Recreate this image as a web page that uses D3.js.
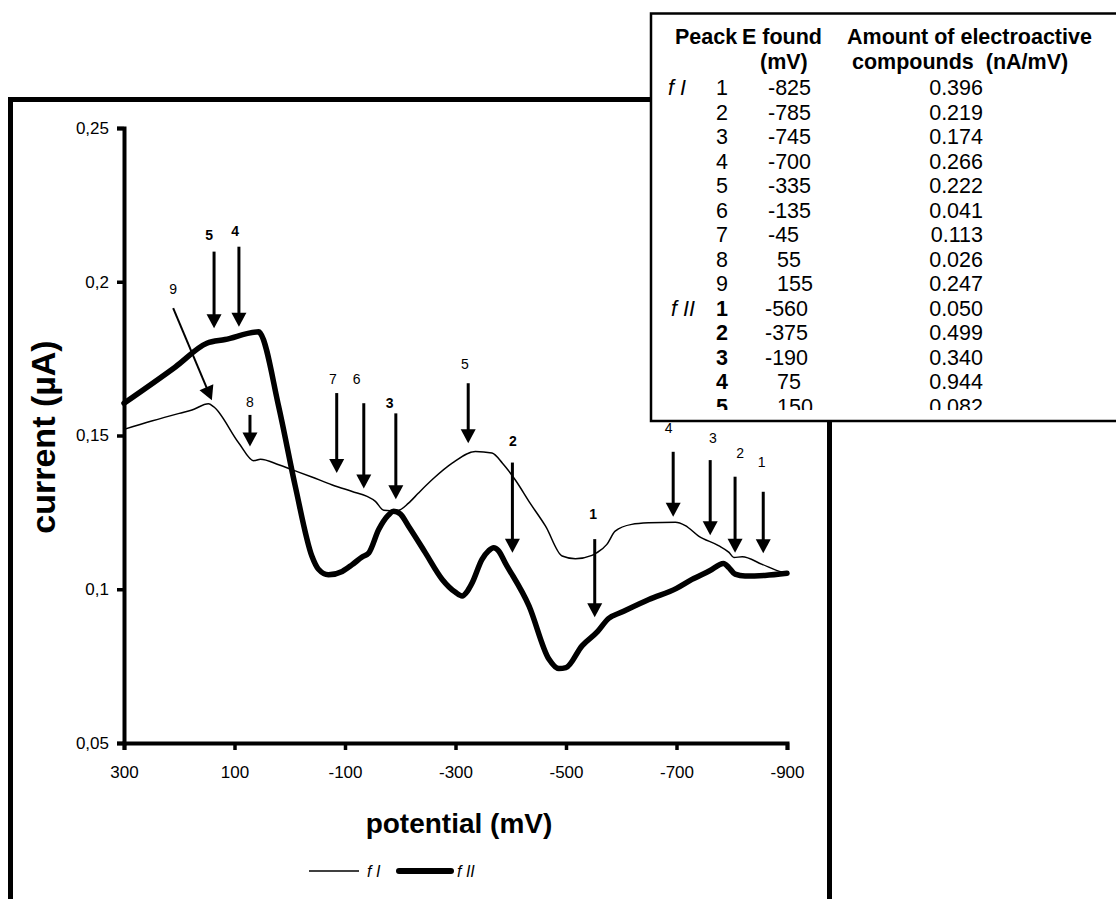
<!DOCTYPE html>
<html lang="en">
<head>
<meta charset="utf-8">
<style type="text/css">
    body { margin: 0; background: #fff; }
    text { font-family: Arial, "Liberation Sans", sans-serif; fill: #000; }
    .tick_text { font-size: 17px; }
    .title_text { font-size: 28px; font-weight: bold; }
    .table_text { font-size: 21.5px; }
    .peak_label { font-size: 14px; }
</style>
</head>
<body>
<div id="graph"></div>
<script src="https://cdn.jsdelivr.net/npm/d3@7"></script>
<script type="text/javascript">
// axis ticks
var potentialTicks = [300, 100, -100, -300, -500, -700, -900];
var currentTicks = [0.05, 0.1, 0.15, 0.2, 0.25];

// fraction I (thin line), potential in mV and current in uA
var fIPotential = [300, 250, 200, 177, 147, 138, 92, 65, 53, 20, -4, -40, -76, -113, -140, -155, -170, -194, -215, -233, -260, -294, -336, -366, -385, -408, -435, -463, -493, -517, -547, -556, -574, -589, -619, -650, -698, -716, -740, -776, -795, -804, -819, -855, -891, -900];
var fICurrent = [0.152, 0.1547, 0.1572, 0.1583, 0.1603, 0.1594, 0.1475, 0.1418, 0.1423, 0.1405, 0.1389, 0.1365, 0.134, 0.1318, 0.1302, 0.1286, 0.1257, 0.1255, 0.128, 0.1313, 0.136, 0.141, 0.1448, 0.1443, 0.141, 0.1356, 0.128, 0.1205, 0.1108, 0.1099, 0.111, 0.1119, 0.1146, 0.1189, 0.1211, 0.1216, 0.1218, 0.1207, 0.1173, 0.1142, 0.112, 0.1103, 0.1106, 0.1081, 0.1056, 0.1053];

// fraction II (thick line)
var fIIPotential = [300, 207, 150, 117, 56, 53, 20, -10, -40, -52, -70, -95, -113, -131, -143, -161, -178, -188, -200, -215, -245, -276, -300, -312, -322, -330, -348, -360, -369, -378, -390, -433, -469, -487, -500, -529, -557, -577, -600, -650, -700, -728, -760, -785, -795, -806, -824, -860, -900];
var fIICurrent = [0.1605, 0.1723, 0.180, 0.1812, 0.1837, 0.1832, 0.1594, 0.1335, 0.1108, 0.1065, 0.1047, 0.1058, 0.108, 0.1105, 0.1118, 0.1194, 0.124, 0.1254, 0.1245, 0.1205, 0.112, 0.1032, 0.099, 0.0978, 0.0995, 0.102, 0.1097, 0.1125, 0.1135, 0.1125, 0.1086, 0.0946, 0.0773, 0.0742, 0.0745, 0.0816, 0.0862, 0.0905, 0.0925, 0.0967, 0.1003, 0.1032, 0.106, 0.1084, 0.107, 0.1049, 0.1043, 0.1045, 0.1052];

// peak arrows, [potential, current] of tail, tip and number
var fIArrowName = ["1", "2", "3", "4", "5", "6", "7", "8", "9"];
var fIArrowTail = [[-857, 0.1317], [-806, 0.1366], [-761, 0.1420], [-694, 0.1447], [-323, 0.1670], [-134, 0.1605], [-85, 0.1638], [72, 0.1567], [211, 0.1914]];
var fIArrowTip = [[-857, 0.1117], [-806, 0.1119], [-761, 0.1176], [-694, 0.1236], [-323, 0.1475], [-134, 0.1328], [-85, 0.1378], [72, 0.1464], [141, 0.1615]];
var fIArrowText = [[-854, 0.1396], [-815, 0.1428], [-766, 0.1474], [-686, 0.1507], [-317, 0.1715], [-121, 0.1666], [-78, 0.1666], [72, 0.1593], [211, 0.1961]];

var fIIArrowName = ["1", "2", "3", "4", "5"];
var fIIArrowTail = [[-552, 0.1163], [-403, 0.1412], [-192, 0.1572], [92, 0.2114], [137, 0.2098]];
var fIIArrowTip = [[-552, 0.0909], [-403, 0.1119], [-192, 0.1293], [92, 0.1854], [137, 0.1849]];
var fIIArrowText = [[-549, 0.1227], [-404, 0.1466], [-181, 0.1591], [99, 0.2149], [146, 0.2137]];

// table of peaks
var tableFraction = ["f I", "", "", "", "", "", "", "", "", "f II", "", "", "", ""];
var tablePeak = ["1", "2", "3", "4", "5", "6", "7", "8", "9", "1", "2", "3", "4", "5"];
var tableE = [-825, -785, -745, -700, -335, -135, -45, 55, 155, -560, -375, -190, 75, 150];
var tableAmount = ["0.396", "0.219", "0.174", "0.266", "0.222", "0.041", "0.113", "0.026", "0.247", "0.050", "0.499", "0.340", "0.944", "0.082"];

var svg = d3.select("#graph").append("svg")
    .attr("width", 1116)
    .attr("height", 899);

// outer chart frame
svg.append("rect")
    .attr("x", 10.5).attr("y", 99.5)
    .attr("width", 819).attr("height", 900)
    .attr("fill", "#fff")
    .attr("stroke", "#000")
    .attr("stroke-width", 5);

var x = d3.scaleLinear().domain([300, -900]).range([124, 787]);
var y = d3.scaleLinear().domain([0.05, 0.25]).range([743, 128]);

var comma = d3.formatLocale({decimal: ",", thousands: ".", grouping: [3], currency: ["", ""]}).format("~g");

var yAxis = svg.append("g")
    .attr("transform", "translate(124,0)")
    .call(d3.axisLeft(y).tickValues(currentTicks).tickSize(7).tickPadding(8).tickFormat(comma));
var xAxis = svg.append("g")
    .attr("transform", "translate(0,743)")
    .call(d3.axisBottom(x).tickValues(potentialTicks).tickSize(7).tickPadding(16).tickFormat(function(d){ return String(d); }));

[xAxis, yAxis].forEach(function(g){
    g.select(".domain").attr("stroke-width", 4).attr("stroke", "#000");
    g.selectAll(".tick line").attr("stroke-width", 3.5).attr("stroke", "#000");
    g.selectAll(".tick text").attr("class", "tick_text").attr("fill", "#000");
    g.attr("font-family", null).attr("font-size", null);
});

var line = d3.line()
    .x(function(d){ return x(d[0]); })
    .y(function(d){ return y(d[1]); })
    .curve(d3.curveMonotoneX);

svg.append("path")
    .attr("d", line(d3.zip(fIPotential, fICurrent)))
    .attr("fill", "none").attr("stroke", "#000").attr("stroke-width", 1.5);
svg.append("path")
    .attr("d", line(d3.zip(fIIPotential, fIICurrent)))
    .attr("fill", "none").attr("stroke", "#000").attr("stroke-width", 5.5)
    .attr("stroke-linejoin", "round").attr("stroke-linecap", "round");

function arrowHead(x0, y0, x1, y1, len, half) {
    var dx = x1 - x0, dy = y1 - y0, L = Math.hypot(dx, dy);
    var ux = dx / L, uy = dy / L;
    var bx = x1 - ux * len, by = y1 - uy * len;
    return "M" + x1 + "," + y1 + "L" + (bx - uy * half) + "," + (by + ux * half) + "L" + (bx + uy * half) + "," + (by - ux * half) + "Z";
}

function drawArrows(names, tails, tips, texts, bold) {
    names.forEach(function(n, i){
        var x0 = x(tails[i][0]), y0 = y(tails[i][1]);
        var x1 = x(tips[i][0]), y1 = y(tips[i][1]);
        var diag = x0 != x1;
        var L = Math.hypot(x1 - x0, y1 - y0);
        svg.append("line")
            .attr("x1", x0).attr("y1", y0)
            .attr("x2", x1 - (x1 - x0) / L * 10).attr("y2", y1 - (y1 - y0) / L * 10)
            .attr("stroke", "#000").attr("stroke-width", diag ? 2 : 3);
        svg.append("path")
            .attr("d", arrowHead(x0, y0, x1, y1, 14, 7.5))
            .attr("fill", "#000");
        svg.append("text")
            .attr("class", "peak_label")
            .attr("x", x(texts[i][0])).attr("y", y(texts[i][1]))
            .attr("text-anchor", "middle")
            .style("font-weight", bold ? "bold" : "normal")
            .text(n);
    });
}
drawArrows(fIArrowName, fIArrowTail, fIArrowTip, fIArrowText, false);
drawArrows(fIIArrowName, fIIArrowTail, fIIArrowTip, fIIArrowText, true);

// axis titles
svg.append("text")
    .attr("class", "title_text")
    .attr("transform", "translate(55,437) rotate(-90)")
    .attr("text-anchor", "middle")
    .style("font-size", "34px")
    .text("current (\u00b5A)");
svg.append("text")
    .attr("class", "title_text")
    .attr("x", 459).attr("y", 833)
    .attr("text-anchor", "middle")
    .text("potential (mV)");

// legend
svg.append("line").attr("x1", 309).attr("x2", 359).attr("y1", 871).attr("y2", 871)
    .attr("stroke", "#000").attr("stroke-width", 1.5);
svg.append("text").attr("x", 367).attr("y", 877).style("font-size", "16px").style("font-style", "italic").text("f I");
svg.append("line").attr("x1", 399).attr("x2", 451).attr("y1", 871).attr("y2", 871)
    .attr("stroke", "#000").attr("stroke-width", 6).attr("stroke-linecap", "round");
svg.append("text").attr("x", 457).attr("y", 877).style("font-size", "16px").style("font-style", "italic").text("f II");

// peak table
var table = svg.append("g");
table.append("rect")
    .attr("x", 651).attr("y", 13.5)
    .attr("width", 480).attr("height", 407.5)
    .attr("fill", "#fff").attr("stroke", "#000").attr("stroke-width", 2.5);

svg.append("clipPath").attr("id", "tableclip")
    .append("rect").attr("x", 652).attr("y", 15).attr("width", 470).attr("height", 395);
var rows = table.append("g").attr("clip-path", "url(#tableclip)");

var head = [["Peack", 675, 44], ["E found", 742, 44], ["Amount of electroactive", 847, 44], ["(mV)", 760, 69], ["compounds  (nA/mV)", 852, 69]];
head.forEach(function(h){
    rows.append("text").attr("class", "table_text")
        .attr("x", h[1]).attr("y", h[2])
        .style("font-weight", "bold").style("white-space", "pre")
        .text(h[0]);
});

tablePeak.forEach(function(p, i){
    var by = 95 + i * 24.5;
    var second = i >= 9;
    rows.append("text").attr("class", "table_text")
        .attr("x", second ? 671 : 668).attr("y", by)
        .style("font-style", "italic")
        .text(tableFraction[i]);
    rows.append("text").attr("class", "table_text")
        .attr("x", 722).attr("y", by)
        .attr("text-anchor", "middle")
        .style("font-weight", second ? "bold" : "normal")
        .text(p);
    rows.append("text").attr("class", "table_text")
        .attr("x", tableE[i] < 0 ? (second ? 765 : 768) : 777).attr("y", by)
        .text(String(tableE[i]));
    rows.append("text").attr("class", "table_text")
        .attr("x", 983).attr("y", by)
        .attr("text-anchor", "end")
        .text(tableAmount[i]);
});
</script>
</body>
</html>
